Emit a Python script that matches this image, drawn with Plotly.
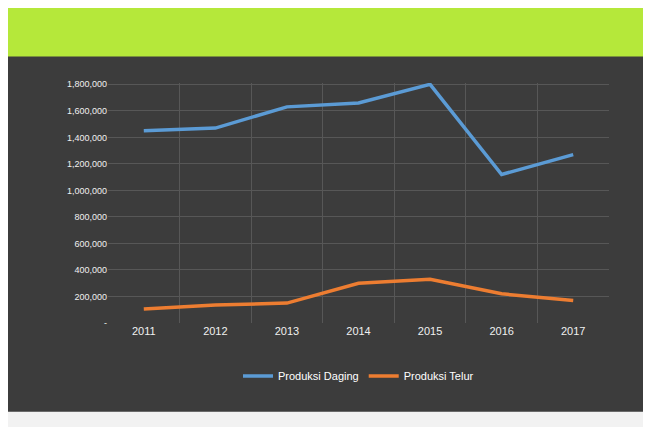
import plotly.graph_objects as go

years = ["2011", "2012", "2013", "2014", "2015", "2016", "2017"]
daging = [1450000, 1470000, 1630000, 1660000, 1800000, 1120000, 1270000]
telur = [105000, 135000, 150000, 300000, 330000, 220000, 170000]
ytick_vals = [0, 200000, 400000, 600000, 800000, 1000000, 1200000, 1400000, 1600000, 1800000]
ytick_text = ["-", "200,000", "400,000", "600,000", "800,000", "1,000,000",
              "1,200,000", "1,400,000", "1,600,000", "1,800,000"]

fig = go.Figure()
fig.add_trace(go.Scatter(x=years, y=daging, mode="lines", name="Produksi Daging",
                         line=dict(color="#5b9bd5", width=3.5)))
fig.add_trace(go.Scatter(x=years, y=telur, mode="lines", name="Produksi Telur",
                         line=dict(color="#ed7d31", width=3.5)))

fig.update_layout(
    width=651, height=427,
    paper_bgcolor="#3c3c3c",
    plot_bgcolor="#3c3c3c",
    margin=dict(l=100, r=50, t=75, b=112),
    font=dict(family="Liberation Sans, Arial, sans-serif", color="#e8e8e8", size=10),
    showlegend=True,
    legend=dict(orientation="h", x=0.5, xanchor="center", y=-0.16, yanchor="top",
                font=dict(size=11, color="#ffffff"), bgcolor="rgba(0,0,0,0)"),
    shapes=[
        dict(type="rect", xref="paper", yref="paper", x0=-0.3, x1=1.2, y0=1.11, y1=1.4,
             fillcolor="#b5e83a", line=dict(width=0), layer="below"),
        dict(type="rect", xref="paper", yref="paper", x0=-0.3, x1=1.2, y0=-0.6, y1=-0.37,
             fillcolor="#f2f2f2", line=dict(width=0), layer="below"),
    ],
)
fig.update_xaxes(type="category", range=[-0.5, 6.5], showgrid=True, gridcolor="#575757",
                 tickson="boundaries", showline=False, zeroline=False, ticks="",
                 tickfont=dict(size=11, color="#f0f0f0"))
fig.update_yaxes(range=[0, 1810000], tickvals=ytick_vals, ticktext=ytick_text,
                 showgrid=True, gridcolor="#575757", zeroline=False, showline=False,
                 ticks="", tickfont=dict(size=9, color="#f0f0f0"))

fig.write_html("out.html")
